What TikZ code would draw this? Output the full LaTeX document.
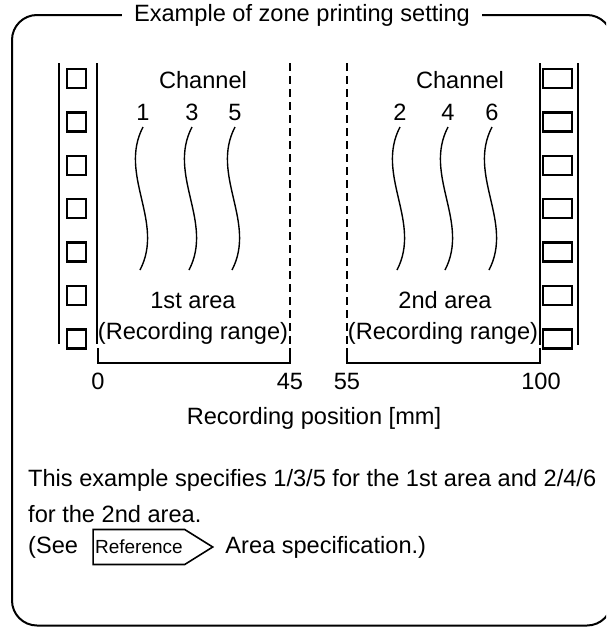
\documentclass[tikz,border=0pt]{standalone}
\usepackage{fontspec}
\setmainfont{Liberation Sans}
\usetikzlibrary{positioning,shapes.symbols}

\begin{document}
\begin{tikzpicture}[x=1pt,y=-1pt,
txt/.style={inner sep=0pt,font=\fontsize{23.6pt}{28pt}\selectfont},
frame/.style={line width=2pt,rounded corners=25pt},
strip/.style={line width=1.8pt},
hole/.style={line width=2.4pt},
wave/.style={line width=1.4pt},
sep/.style={line width=1.4pt,dash pattern=on 8pt off 5pt},
brk/.style={line width=1.6pt},
refbox/.style={signal,signal to=east,draw,line width=1.6pt,signal pointer angle=64,
minimum height=35pt,inner xsep=2pt,inner ysep=0pt,font=\fontsize{19pt}{22pt}\selectfont}
]
\clip (0,0) rectangle (606,627);
% title and frame
\node[txt,inner xsep=12pt] (title) at (302,15) {Example of zone printing setting};
\draw[frame] (title.west) -| (12,625.5) -| (612,15) -- (title.east);
% film strips
\draw[strip] (59,63) -- (59,344) (97,63) -- (97,344);
\draw[strip] (540,63) -- (540,345) (578,63) -- (578,345);
\foreach \i in {0,...,6} {
  \draw[hole] (67,{69+43.4*\i}) rectangle +(19,19);
  \draw[hole] (543,{69+43.4*\i}) rectangle +(29,19);
}
% area borders
\draw[sep] (290,63) -- (290,344);
\draw[sep] (347,63) -- (347,344);
% channels
\node[txt] (chA) at (203,80) {Channel};
\node[txt] (chB) at (460,80) {Channel};
\foreach \n/\x in {1/143,3/192,5/235,2/400,4/448,6/492} {
  \node[txt] (n\n) at (\x,112) {\n};
  \draw[wave] (\x,127) .. controls (\x-25,175) and (\x+22,222) .. (\x-3,270);
}
\node[txt] (area1) at (193,300) {1st area};
\node[txt] (range1) at (193,333) {(Recording range)};
\node[txt] (area2) at (445,300) {2nd area};
\node[txt] (range2) at (443,333) {(Recording range)};
% recording position
\draw[brk] (98,348) |- (290,363) -- (290,348);
\draw[brk] (347,348) |- (540,363) -- (540,348);
\node[txt] (p0) at (98,381) {0};
\node[txt] (p45) at (290,381) {45};
\node[txt] (p55) at (347,381) {55};
\node[txt] (p100) at (541,381) {100};
\node[txt] (axis) at (314,418) {Recording position [mm]};
% note
\node[txt,anchor=west] (line1) at (28,480) {This example specifies 1/3/5 for the 1st area and 2/4/6};
\node[txt,anchor=west] (line2) at (28,514) {for the 2nd area.};
\node[txt,anchor=west] (see) at (28,547) {(See};
\node[refbox,right=14pt of see] (ref) {Reference};
\node[txt,right=11pt of ref] (spec) {Area specification.)};
\end{tikzpicture}
\end{document}
